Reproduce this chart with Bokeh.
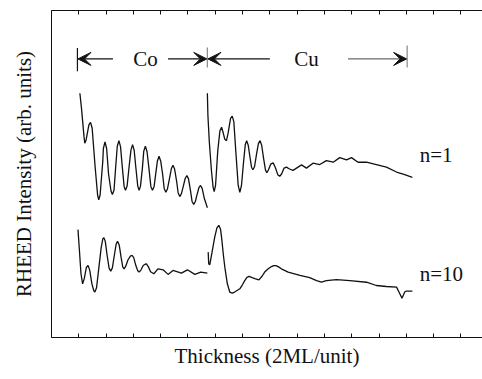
from bokeh.plotting import figure
from bokeh.models import (LinearAxis, FixedTicker, Range1d, Label, Arrow, VeeHead)
from bokeh.embed import file_html
from bokeh.resources import INLINE

# ---- data (thickness units of 2 ML, intensity in arb. units) ----
co1_x = [0.04, 0.10, 0.19, 0.22, 0.27, 0.37, 0.43, 0.49, 0.60, 0.69, 0.73, 0.78, 0.88, 0.90,
         0.96, 1.02, 1.09, 1.18, 1.23, 1.29, 1.35, 1.41, 1.47, 1.53, 1.59, 1.66, 1.71, 1.77,
         1.84, 1.91, 1.97, 2.03, 2.09, 2.16, 2.21, 2.26, 2.33, 2.38, 2.44, 2.50, 2.57, 2.64,
         2.70, 2.76, 2.82, 2.88, 2.94, 3.00, 3.07, 3.13, 3.19, 3.25, 3.32, 3.39, 3.45, 3.51,
         3.58, 3.64, 3.70, 3.76, 3.83, 3.90, 3.96, 4.02, 4.09, 4.15, 4.21, 4.27, 4.33, 4.40,
         4.46, 4.52, 4.60, 4.71]
co1_y = [74.7, 70.0, 61.5, 59.4, 60.5, 65.0, 65.8, 64.0, 52.0, 43.5, 42.1, 43.5, 54.0, 57.8,
         59.8, 57.8, 50.0, 44.8, 43.7, 45.0, 52.0, 58.5, 60.2, 58.3, 52.5, 46.2, 45.0, 46.3,
         52.0, 57.3, 59.0, 57.2, 52.0, 46.3, 45.0, 46.3, 51.8, 57.0, 58.5, 56.8, 51.7, 46.2,
         45.0, 46.2, 50.2, 54.0, 55.4, 54.0, 50.0, 45.5, 44.4, 45.5, 48.5, 51.6, 52.7, 51.5,
         48.0, 44.2, 43.1, 44.0, 46.3, 48.7, 49.5, 48.5, 45.0, 41.6, 40.7, 41.6, 43.6, 45.8,
         46.5, 45.6, 42.5, 39.7]

cu1_x = [4.71, 4.73, 4.78, 4.86, 4.92, 4.96, 5.01, 5.09, 5.17, 5.23, 5.29, 5.35, 5.41, 5.47,
         5.56, 5.62, 5.68, 5.76, 5.84, 5.90, 5.96, 6.04, 6.10, 6.15, 6.21, 6.27, 6.33, 6.38,
         6.44, 6.51, 6.58, 6.64, 6.70, 6.77, 6.84, 6.89, 6.95, 7.03, 7.12, 7.20, 7.29, 7.36,
         7.43, 7.52, 7.61, 7.70, 7.85, 8.16, 8.34, 8.58, 8.83, 9.07, 9.32, 9.56, 9.81, 9.99,
         10.23, 10.54, 10.90, 11.27, 11.64, 11.94, 12.22]
cu1_y = [74.7, 68.0, 60.0, 51.0, 46.0, 44.6, 46.5, 57.0, 63.2, 64.3, 62.6, 60.6, 60.2, 62.5,
         67.0, 67.7, 66.0, 56.0, 46.5, 44.4, 46.5, 54.0, 59.0, 60.2, 58.7, 55.2, 52.0, 51.3,
         52.3, 56.0, 59.3, 60.2, 58.8, 54.8, 51.2, 50.4, 51.3, 53.0, 53.4, 52.0, 49.8, 49.3,
         50.0, 51.8, 52.1, 51.6, 51.1, 52.8, 51.8, 53.3, 52.9, 54.1, 53.6, 55.0, 54.3, 55.0,
         53.6, 53.6, 52.9, 52.1, 50.6, 49.8, 49.0]

co10_x = [-0.03, 0.02, 0.08, 0.14, 0.20, 0.28, 0.34, 0.40, 0.48, 0.55, 0.59, 0.65, 0.73, 0.82,
          0.88, 0.92, 0.97, 1.04, 1.11, 1.17, 1.23, 1.30, 1.37, 1.42, 1.48, 1.55, 1.61, 1.66,
          1.72, 1.80, 1.89, 1.95, 2.01, 2.09, 2.16, 2.21, 2.28, 2.36, 2.43, 2.48, 2.55, 2.63,
          2.75, 2.90, 3.09, 3.27, 3.45, 3.76, 3.98, 4.25, 4.47, 4.71]
co10_y = [33.0, 27.0, 19.5, 16.4, 18.0, 21.5, 22.0, 20.6, 16.4, 14.3, 13.9, 15.2, 21.0, 27.5,
          30.2, 30.5, 29.4, 25.0, 21.2, 20.3, 21.3, 25.0, 28.6, 29.4, 28.3, 24.5, 21.6, 21.0,
          21.8, 23.7, 24.9, 25.1, 24.5, 22.0, 20.4, 20.0, 20.7, 22.0, 22.4, 22.5, 21.6, 20.1,
          19.5, 21.0, 20.7, 19.3, 20.5, 19.7, 20.7, 19.3, 20.0, 19.7]

cu10_x = [4.74, 4.76, 4.80, 4.88, 4.98, 5.06, 5.13, 5.19, 5.23, 5.30, 5.35, 5.44, 5.53, 5.62,
          5.71, 5.90, 6.00, 6.08, 6.16, 6.24, 6.35, 6.45, 6.60, 6.72, 6.81, 6.94, 7.06, 7.14,
          7.22, 7.32, 7.42, 7.67, 8.10, 8.46, 8.71, 8.89, 9.07, 9.44, 9.93, 10.54, 10.90,
          11.27, 11.64, 11.73, 11.84, 11.94, 12.00, 12.22]
cu10_y = [26.1, 22.5, 22.3, 26.0, 30.7, 33.5, 34.3, 33.2, 30.7, 25.0, 21.5, 16.5, 13.9, 13.6,
          13.9, 14.9, 16.2, 17.4, 18.4, 18.7, 18.3, 18.0, 17.6, 18.8, 20.0, 21.0, 21.7, 22.0,
          22.0, 21.6, 21.0, 20.0, 19.0, 18.3, 17.4, 16.9, 17.4, 17.7, 17.4, 16.9, 15.9,
          15.6, 15.4, 13.9, 12.0, 13.9, 14.2, 14.2]

x_ticks = list(range(-1, 16))
labels = ["n=1", "n=10"]
regions = ["Co", "Cu"]

FONT = "Liberation Serif"
INK = "#111111"
blank = {t: "" for t in x_ticks}

p = figure(width=482, height=379, output_backend="svg", toolbar_location=None,
           x_range=Range1d(-1.0, 14.79), y_range=Range1d(0, 100),
           min_border_left=51, min_border_right=0, min_border_top=10, min_border_bottom=42)
p.outline_line_color = None
p.grid.visible = False
p.background_fill_color = "white"

# bottom axis: inward ticks, no tick labels
xa = p.xaxis[0]
xa.ticker = FixedTicker(ticks=x_ticks)
xa.major_label_overrides = blank
xa.major_tick_in = 4
xa.major_tick_out = 0
xa.minor_tick_line_color = None
xa.major_label_standoff = 0
xa.axis_label = "Thickness (2ML/unit)"
xa.axis_label_text_font = FONT
xa.axis_label_text_font_style = "normal"
xa.axis_label_text_font_size = "21px"
xa.axis_label_text_color = INK
xa.axis_label_standoff = 6
xa.axis_line_color = INK
xa.major_tick_line_color = INK

# top axis (ticks only)
ta = LinearAxis(ticker=FixedTicker(ticks=x_ticks), major_label_overrides=blank,
                major_tick_in=4, major_tick_out=0,
                minor_tick_line_color=None, major_label_standoff=0,
                axis_line_color=INK, major_tick_line_color=INK)
p.add_layout(ta, "above")

# left axis (line and title only)
ya = p.yaxis[0]
ya.ticker = FixedTicker(ticks=[])
ya.minor_tick_line_color = None
ya.major_tick_line_color = None
ya.major_label_standoff = 0
ya.axis_label = "RHEED Intensity (arb. units)"
ya.axis_label_text_font = FONT
ya.axis_label_text_font_style = "normal"
ya.axis_label_text_font_size = "21px"
ya.axis_label_text_color = INK
ya.axis_label_standoff = 16
ya.axis_line_color = INK

# curves
for xs, ys in [(co1_x, co1_y), (cu1_x, cu1_y), (co10_x, co10_y), (cu10_x, cu10_y)]:
    p.line(xs, ys, line_color=INK, line_width=1.3)

# region markers
p.segment(x0=[-0.05], y0=[81.4], x1=[-0.05], y1=[88.5], line_color=INK, line_width=1.2)
p.segment(x0=[4.71, 12.03], y0=[82.6, 82.6], x1=[4.71, 12.03], y1=[88.7, 89.3],
          line_color="#888888", line_width=1.2)

AY = 85.2
def arrow(x0, x1, color=INK, width=1.2):
    p.add_layout(Arrow(end=VeeHead(size=13, fill_color=INK, line_color=INK, line_width=1),
                       x_start=x0, y_start=AY, x_end=x1, y_end=AY,
                       line_color=color, line_width=width))

arrow(1.25, -0.03)
arrow(3.27, 4.69)
arrow(7.0, 4.73)
arrow(9.86, 12.01, color="#444444", width=1.0)

for txt, xc in zip(regions, [2.44, 8.34]):
    p.add_layout(Label(x=xc, y=AY, text=txt, text_font=FONT, text_font_size="21px",
                       text_align="center", text_baseline="middle", text_color=INK))

for txt, yc in zip(labels, [55.7, 19.5]):
    p.add_layout(Label(x=12.49, y=yc, text=txt, text_font=FONT, text_font_size="21px",
                       text_align="left", text_baseline="middle", text_color=INK))

open("out.html", "w").write(file_html(p, INLINE))
